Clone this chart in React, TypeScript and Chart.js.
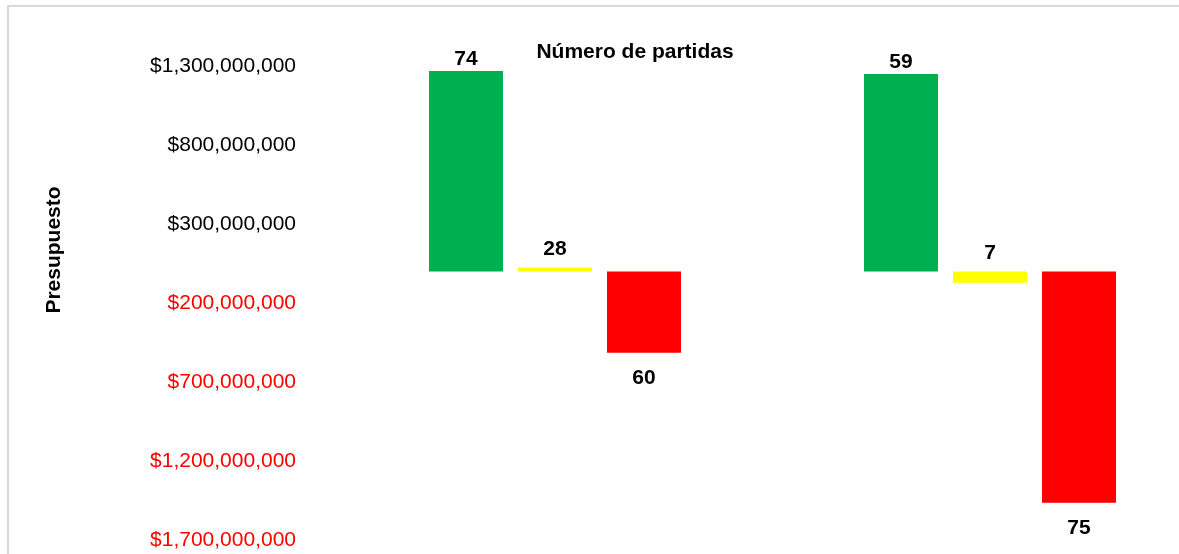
import React, { useEffect, useRef } from "react";
import { Chart, registerables } from "chart.js";

Chart.register(...registerables);

const categories = ["Grupo 1", "Grupo 2"];
const seriesNames = ["Positivo", "Neutro", "Negativo"];
const greenValues = [1.268e9, 1.25e9];
const yellowValues = [2.5e7, -7.2e7];
const redValues = [-5.15e8, -1.464e9];
const greenCounts = [74, 59];
const yellowCounts = [28, 7];
const redCounts = [60, 75];
const yTickValues = [1.3e9, 8e8, 3e8, -2e8, -7e8, -1.2e9, -1.7e9];
const chartTitle = "Número de partidas";
const yAxisTitle = "Presupuesto";

const FONT = '"Liberation Sans", Arial, sans-serif';
const CANVAS_W = 1260;
const CANVAS_H = 554;

const labelsPlugin = {
  id: "customLabels",
  afterDatasetsDraw(chart: any) {
    const ctx = chart.ctx;
    ctx.save();
    ctx.fillStyle = "#000";
    ctx.font = `bold 21px ${FONT}`;
    ctx.textAlign = "center";
    ctx.textBaseline = "alphabetic";
    chart.data.datasets.forEach((ds: any, di: number) => {
      const meta = chart.getDatasetMeta(di);
      meta.data.forEach((el: any, i: number) => {
        const top = Math.min(el.y, el.base);
        const bottom = Math.max(el.y, el.base);
        const y = ds.labelAbove ? top - ds.labelOffset : bottom + ds.labelOffset;
        ctx.fillText(String(ds.counts[i]), el.x, y);
      });
    });
    // chart title
    ctx.fillText(chartTitle, 635, 58);
    // y axis title
    ctx.save();
    ctx.translate(54, 250);
    ctx.rotate(-Math.PI / 2);
    ctx.textBaseline = "middle";
    ctx.fillText(yAxisTitle, 0, 0);
    ctx.restore();
    ctx.restore();
  },
};

export default function App() {
  const ref = useRef<HTMLCanvasElement | null>(null);

  useEffect(() => {
    if (!ref.current) return;
    const chart = new Chart(ref.current, {
      type: "bar",
      data: {
        labels: categories,
        datasets: [
          {
            label: seriesNames[0],
            data: greenValues,
            backgroundColor: "#00B050",
            counts: greenCounts,
            labelAbove: true,
            labelOffset: 6,
          } as any,
          {
            label: seriesNames[1],
            data: yellowValues,
            backgroundColor: "#FFFF00",
            counts: yellowCounts,
            labelAbove: true,
            labelOffset: 12,
          } as any,
          {
            label: seriesNames[2],
            data: redValues,
            backgroundColor: "#FF0000",
            counts: redCounts,
            labelAbove: false,
            labelOffset: 31.5,
          } as any,
        ],
      },
      options: {
        animation: false,
        responsive: false,
        devicePixelRatio: 1,
        layout: { padding: { top: 66, bottom: 14, left: 0, right: CANVAS_W - 1207.5 } },
        datasets: {
          bar: { categoryPercentage: 0.6138, barPercentage: 0.8315, borderWidth: 0 },
        },
        plugins: {
          legend: { display: false },
          title: { display: false },
          tooltip: { enabled: false },
        },
        scales: {
          x: { display: false },
          y: {
            min: Math.min(...yTickValues),
            max: Math.max(...yTickValues),
            grid: { display: false, drawTicks: false },
            border: { display: false },
            afterFit(scale: any) {
              scale.width = 337.5;
              scale.paddingTop = 0;
              scale.paddingBottom = 0;
            },
            afterBuildTicks(scale: any) {
              scale.ticks = yTickValues.map((v) => ({ value: v }));
            },
            ticks: {
              autoSkip: false,
              padding: 41.5,
              font: { family: FONT, size: 21 },
              color: (c: any) => (c.tick && c.tick.value < 0 ? "#FF0000" : "#000000"),
              callback: (v: any) => "$" + Math.abs(Number(v)).toLocaleString("en-US"),
            },
          },
        },
      },
      plugins: [labelsPlugin],
    } as any);
    return () => chart.destroy();
  }, []);

  return (
    <div
      style={{
        position: "fixed",
        left: 0,
        top: 0,
        width: 1179,
        height: 554,
        overflow: "hidden",
        background: "#fff",
      }}
    >
      <div
        style={{
          position: "absolute",
          left: 7,
          top: 5,
          width: 1400,
          height: 800,
          borderTop: "2px solid #d9d9d9",
          borderLeft: "2px solid #d9d9d9",
        }}
      />
      <canvas
        ref={ref}
        width={CANVAS_W}
        height={CANVAS_H}
        style={{ position: "absolute", left: 0, top: 0, width: CANVAS_W, height: CANVAS_H }}
      />
    </div>
  );
}
